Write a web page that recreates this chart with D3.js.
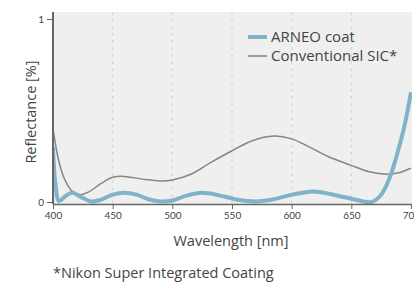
<!DOCTYPE html>
<html>
<head>
<meta charset="utf-8">
<script src="https://cdn.jsdelivr.net/npm/d3@7"></script>
<style>
  body { margin: 0; background: #fff; }
  text { font-family: "Open Sans", Lato, sans-serif; fill: #444; }
</style>
</head>
<body>
<div id="chart"></div>
<script>
const wavelengths = [400, 402, 405, 410, 416, 424, 432, 440, 450, 460, 470, 480, 490, 500, 512, 525, 540, 555, 570, 585, 600, 618, 635, 650, 660, 667, 675, 682, 690, 695, 700];
const arneo =       [0.30, 0.10, 0.005, 0.03, 0.05, 0.025, 0.003, 0.012, 0.04, 0.05, 0.04, 0.015, 0.003, 0.008, 0.035, 0.05, 0.035, 0.012, 0.003, 0.015, 0.04, 0.058, 0.04, 0.018, 0.003, 0.0, 0.04, 0.13, 0.3, 0.43, 0.6];
const convWl =  [400, 405, 410, 416, 423, 430, 440, 450, 460, 475, 490, 500, 515, 532, 550, 567, 585, 600, 615, 630, 650, 665, 680, 690, 700];
const conv =    [0.40, 0.22, 0.12, 0.06, 0.04, 0.055, 0.10, 0.135, 0.14, 0.125, 0.115, 0.12, 0.15, 0.215, 0.28, 0.335, 0.36, 0.345, 0.30, 0.25, 0.20, 0.165, 0.152, 0.16, 0.185];
const xTicks = [400, 450, 500, 550, 600, 650, 700];
const yTicks = [0, 1];
const gridTicks = [450, 500, 550, 600, 650];
const seriesNames = ["ARNEO coat", "Conventional SIC*"];

const W = 414, H = 282;
const svg = d3.select("#chart").append("svg").attr("width", W).attr("height", H);

const x = d3.scaleLinear().domain([400, 700]).range([53, 411]);
const y = d3.scaleLinear().domain([0, 1]).range([202, 19]);

// plot background
svg.append("rect").attr("x", 53).attr("y", 12).attr("width", 359).attr("height", 192).attr("fill", "#efefef");

// grid
svg.append("g").selectAll("line").data(gridTicks).join("line")
  .attr("x1", d => x(d)).attr("x2", d => x(d))
  .attr("y1", 12).attr("y2", 204)
  .attr("stroke", "#d6d6d6").attr("stroke-width", 1.2).attr("stroke-dasharray", "3,4");

const line = d3.line().curve(d3.curveCatmullRom.alpha(0.5));

svg.append("clipPath").attr("id", "clip").append("rect")
  .attr("x", 53).attr("y", 12).attr("width", 359).attr("height", 192);

svg.append("path")
  .attr("d", line(convWl.map((w, i) => [x(w), y(conv[i])])))
  .attr("fill", "none").attr("stroke", "#858585").attr("stroke-width", 1.5)
  .attr("clip-path", "url(#clip)");

svg.append("path")
  .attr("d", line(wavelengths.map((w, i) => [x(w), y(arneo[i])])))
  .attr("fill", "none").attr("stroke", "#7fb2cb").attr("stroke-width", 4)
  .attr("clip-path", "url(#clip)");

// axes
const xAxis = svg.append("g").attr("transform", "translate(0,204)")
  .call(d3.axisBottom(x).tickValues(xTicks).tickSize(5).tickSizeOuter(0).tickPadding(3));
xAxis.select(".domain").attr("stroke", "#666").attr("stroke-width", 1.5);
xAxis.selectAll(".tick line").attr("stroke", "#666");
xAxis.selectAll(".tick text").attr("font-size", 10).attr("fill", "#444").style("font-family", "Lato, sans-serif");

const yAxis = svg.append("g").attr("transform", "translate(53,0)")
  .call(d3.axisLeft(y).tickValues(yTicks).tickFormat(d3.format("d")).tickSize(6).tickSizeOuter(0).tickPadding(3));
yAxis.select(".domain").attr("d", "M0,12V204").attr("stroke", "#666").attr("stroke-width", 2);
yAxis.selectAll(".tick line").attr("stroke", "#666");
yAxis.selectAll(".tick text").attr("font-size", 10).attr("fill", "#444").style("font-family", "Lato, sans-serif");

// axis titles
svg.append("text").attr("x", 231).attr("y", 246).attr("text-anchor", "middle")
  .attr("font-size", 14.5).text("Wavelength [nm]");
svg.append("text").attr("transform", "translate(36,112) rotate(-90)").attr("text-anchor", "middle")
  .attr("font-size", 14.5).text("Reflectance [%]");

// legend
const legend = svg.append("g");
legend.append("line").attr("x1", 248).attr("x2", 267).attr("y1", 37).attr("y2", 37)
  .attr("stroke", "#7fb2cb").attr("stroke-width", 4);
legend.append("line").attr("x1", 248).attr("x2", 267).attr("y1", 56).attr("y2", 56)
  .attr("stroke", "#858585").attr("stroke-width", 1.5);
legend.selectAll("text").data(seriesNames).join("text")
  .attr("x", 271).attr("y", (d, i) => 42 + i * 19)
  .attr("font-size", 15).attr("fill", "#333").text(d => d);

svg.append("text").attr("x", 53).attr("y", 278).attr("font-size", 14.5).attr("fill", "#333")
  .text("*Nikon Super Integrated Coating");
</script>
</body>
</html>
